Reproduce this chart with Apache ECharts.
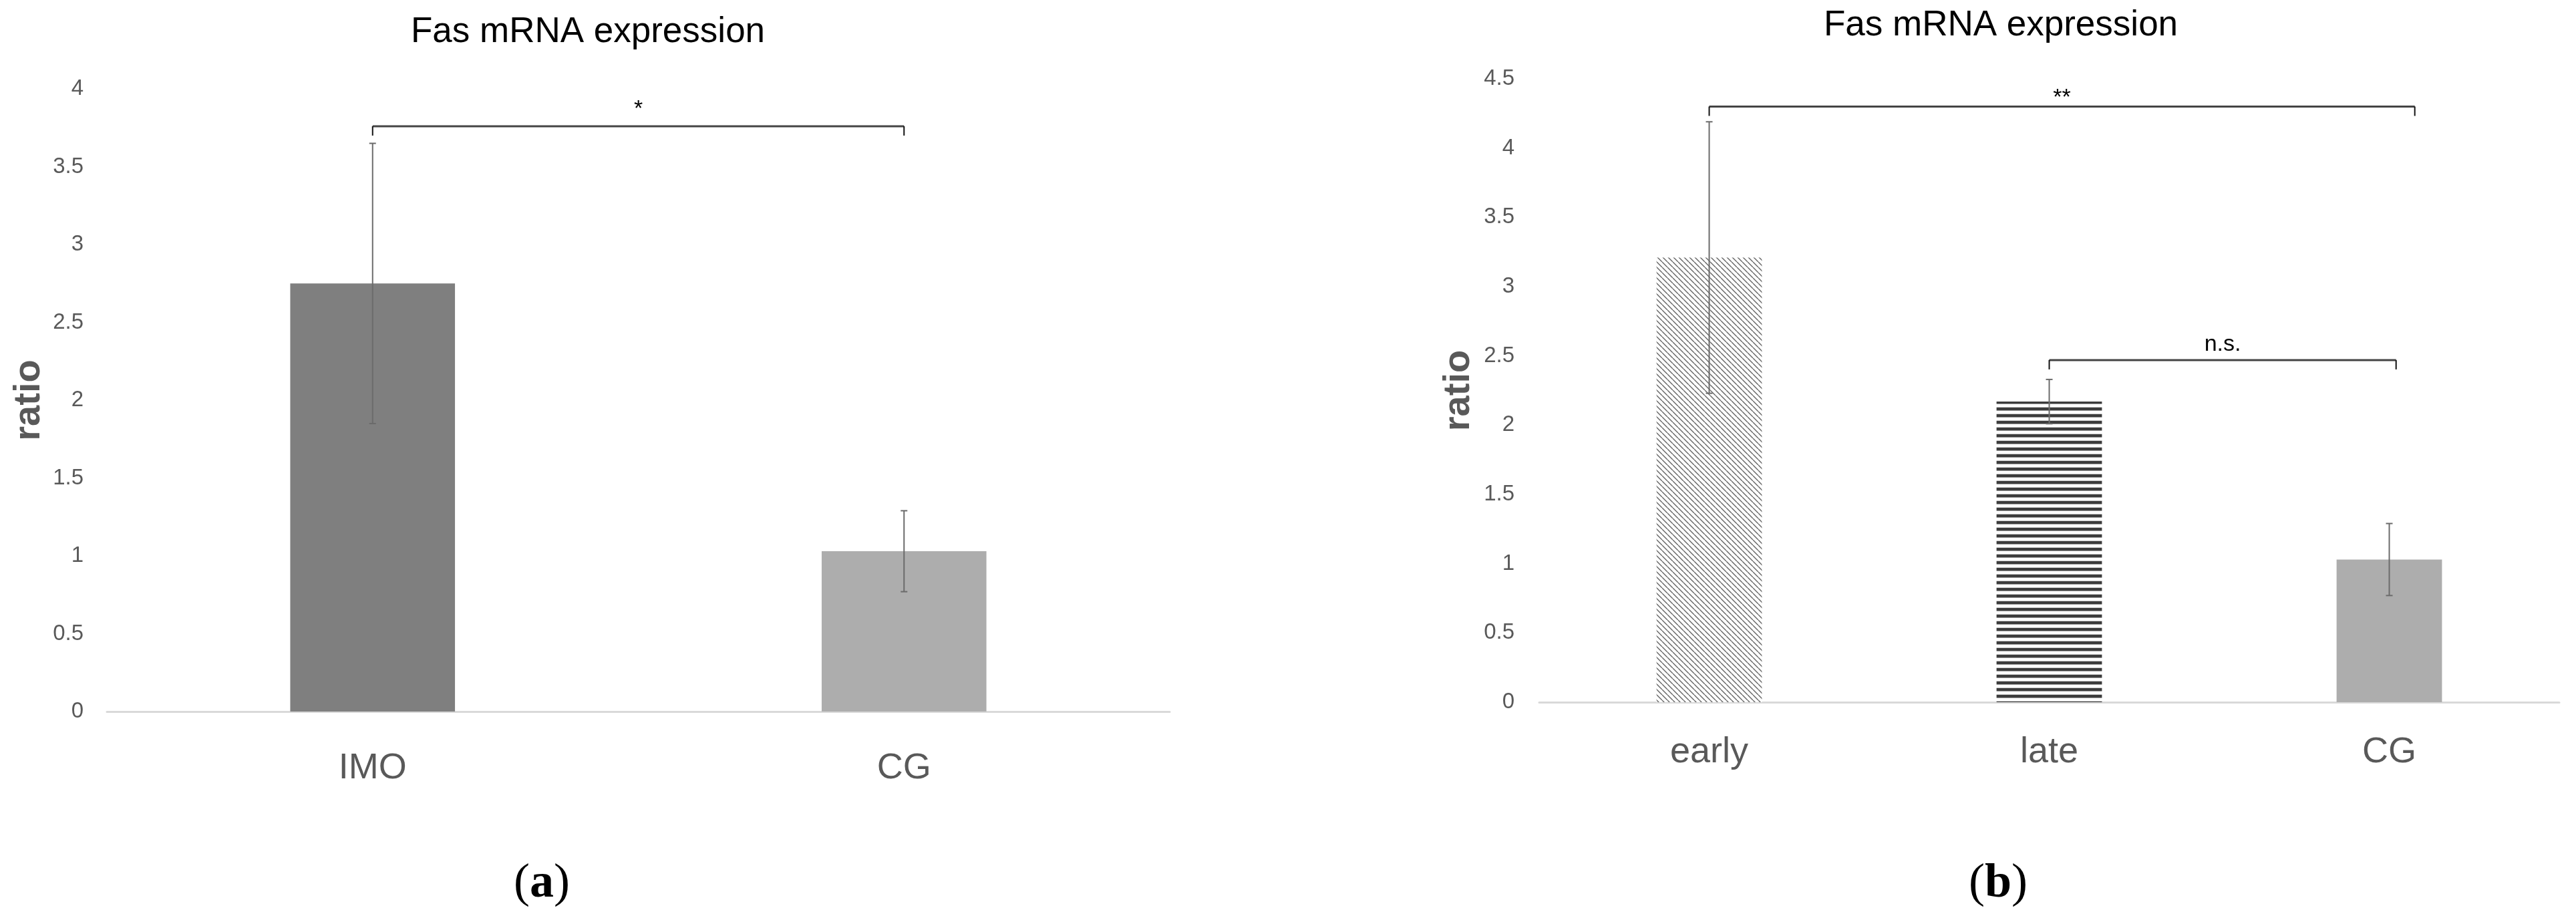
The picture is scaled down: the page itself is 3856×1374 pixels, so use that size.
<!DOCTYPE html>
<html><head><meta charset="utf-8">
<script src="https://cdn.jsdelivr.net/npm/echarts@6/dist/echarts.min.js"></script>
<style>html,body{margin:0;padding:0;background:#fff}#c{width:3856px;height:1374px}</style>
</head><body><div id="c"></div>
<script>
// ---------- data ----------
const catsA = ['IMO', 'CG'];
const meanA = [2.75, 1.03];
const errA  = [0.90, 0.26];

const catsB = ['early', 'late', 'CG'];
const meanB = [3.21, 2.17, 1.03];
const errB  = [0.98, 0.16, 0.26];

const yMaxA = 4;
const yMaxB = 4.5;
const yStep = 0.5;

// significance brackets: [fromCategory, toCategory, yValue, label]
const bracketsA = [[0, 1, 3.76, '*']];
const bracketsB = [[0, 2, 4.30, '**'], [1, 2, 2.47, 'n.s.']];

const titleText = 'Fas mRNA expression';
const yName = 'ratio';
const panelLabels = ['a', 'b'];

// ---------- styles / layout ----------
const FONT = '"Liberation Sans", Arial, sans-serif';
const GREY_TXT = '#595959';
const bracketEndShiftA = [0];
const bracketEndShiftB = [0.075, 0.02];
const labelLiftA = [8];
const labelLiftB = [-4, 6];

function hatchPattern() {
  const c = document.createElement('canvas');
  c.width = 8; c.height = 8;
  const g = c.getContext('2d');
  g.fillStyle = '#fff'; g.fillRect(0, 0, 8, 8);
  g.strokeStyle = '#666'; g.lineWidth = 1.4;
  g.beginPath();
  for (const o of [-8, 0, 8]) { g.moveTo(o, 0); g.lineTo(o + 8, 8); }
  g.stroke();
  return c;
}
function stripePattern() {
  const c = document.createElement('canvas');
  c.width = 4; c.height = 10;
  const g = c.getContext('2d');
  g.fillStyle = '#fff'; g.fillRect(0, 0, 4, 10);
  g.fillStyle = '#3c3c3c'; g.fillRect(0, 0, 4, 4);
  g.fillStyle = '#9a9a9a'; g.fillRect(0, 4, 4, 1);
  g.fillStyle = '#c8c8c8'; g.fillRect(0, 9, 4, 1);
  return c;
}

const colorsA = ['#7f7f7f', '#adadad'];
const colorsB = [{ image: hatchPattern(), repeat: 'repeat' },
                 { image: stripePattern(), repeat: 'repeat' },
                 '#adadad'];

function errorRender(params, api) {
  const i = api.value(0), m = api.value(1), e = api.value(2);
  const t = api.coord([i, m + e]);
  const b = api.coord([i, m - e]);
  const cap = 5;
  const st = { stroke: '#6b6b6b', lineWidth: 2 };
  return { type: 'group', children: [
    { type: 'line', shape: { x1: t[0], y1: t[1], x2: b[0], y2: b[1] }, style: st },
    { type: 'line', shape: { x1: t[0] - cap, y1: t[1], x2: t[0] + cap, y2: t[1] }, style: st },
    { type: 'line', shape: { x1: b[0] - cap, y1: b[1], x2: b[0] + cap, y2: b[1] }, style: st }
  ]};
}

function makeBracketRender(list, shifts, lifts) {
  return function (params, api) {
    const k = params.dataIndex;
    const br = list[k];
    const p1 = api.coord([br[0], br[2]]);
    const p2 = api.coord([br[1], br[2]]);
    const band = api.size([1, 0])[0];
    const x1 = p1[0], x2 = p2[0] + shifts[k] * band, y = p1[1];
    const drop = 14;
    return { type: 'group', children: [
      { type: 'line', shape: { x1: x1, y1: y, x2: x2, y2: y }, style: { stroke: '#444', lineWidth: 3 } },
      { type: 'line', shape: { x1: x1, y1: y, x2: x1, y2: y + drop }, style: { stroke: '#111', lineWidth: 2 } },
      { type: 'line', shape: { x1: x2, y1: y, x2: x2, y2: y + drop }, style: { stroke: '#111', lineWidth: 2 } },
      { type: 'text', x: (x1 + x2) / 2, y: y - lifts[k],
        style: { text: br[3], fontSize: 34, fontFamily: FONT, fill: '#000',
                 align: 'center', verticalAlign: 'bottom' } }
    ]};
  };
}

const chart = echarts.init(document.getElementById('c'), null, { renderer: 'canvas' });

function yAxisCfg(gridIndex, max, gap, margin) {
  return {
    gridIndex: gridIndex, type: 'value', min: 0, max: max, interval: yStep,
    axisLine: { show: false }, axisTick: { show: false }, splitLine: { show: false },
    axisLabel: { color: GREY_TXT, fontSize: 33, fontFamily: FONT, margin: margin },
    name: yName, nameLocation: 'middle', nameGap: gap,
    nameTextStyle: { color: GREY_TXT, fontSize: 56, fontWeight: 'bold', fontFamily: FONT }
  };
}
function xAxisCfg(gridIndex, cats, margin) {
  return {
    gridIndex: gridIndex, type: 'category', data: cats,
    axisLine: { lineStyle: { color: '#d9d9d9', width: 3 } },
    axisTick: { show: false },
    axisLabel: { color: GREY_TXT, fontSize: 54, fontFamily: FONT, margin: margin }
  };
}

const panelRich = {
  p: { fontSize: 72, fontFamily: '"Liberation Serif", serif', fill: '#000' },
  b: { fontSize: 72, fontWeight: 'bold', fontFamily: '"Liberation Serif", serif', fill: '#000' }
};

chart.setOption({
  backgroundColor: '#fff',
  animation: false,
  grid: [
    { left: 160, right: 2105, top: 133, bottom: 309 },
    { left: 2304, right: 25, top: 118, bottom: 323 }
  ],
  xAxis: [xAxisCfg(0, catsA, 58), xAxisCfg(1, catsB, 48)],
  yAxis: [yAxisCfg(0, yMaxA, 88, 35), yAxisCfg(1, yMaxB, 92, 37)],
  graphic: [
    { type: 'text', x: 880, y: 48, style: { text: titleText, fontSize: 53, fontFamily: FONT, fill: '#000', align: 'center', verticalAlign: 'middle' } },
    { type: 'text', x: 2995, y: 38, style: { text: titleText, fontSize: 53, fontFamily: FONT, fill: '#000', align: 'center', verticalAlign: 'middle' } },
    { type: 'text', x: 811, y: 1323, style: { text: '{p|(}{b|' + panelLabels[0] + '}{p|)}', align: 'center', verticalAlign: 'middle', rich: panelRich } },
    { type: 'text', x: 2991, y: 1323, style: { text: '{p|(}{b|' + panelLabels[1] + '}{p|)}', align: 'center', verticalAlign: 'middle', rich: panelRich } }
  ],
  series: [
    { type: 'bar', xAxisIndex: 0, yAxisIndex: 0, barWidth: '31%',
      data: meanA.map((v, i) => ({ value: v, itemStyle: { color: colorsA[i] } })) },
    { type: 'bar', xAxisIndex: 1, yAxisIndex: 1, barWidth: '31%',
      data: meanB.map((v, i) => ({ value: v, itemStyle: { color: colorsB[i] } })) },
    { type: 'custom', xAxisIndex: 0, yAxisIndex: 0, renderItem: errorRender, encode: { x: 0, y: 1 }, z: 5,
      data: meanA.map((m, i) => [i, m, errA[i]]) },
    { type: 'custom', xAxisIndex: 1, yAxisIndex: 1, renderItem: errorRender, encode: { x: 0, y: 1 }, z: 5,
      data: meanB.map((m, i) => [i, m, errB[i]]) },
    { type: 'custom', xAxisIndex: 0, yAxisIndex: 0, renderItem: makeBracketRender(bracketsA, bracketEndShiftA, labelLiftA), clip: false,
      encode: { x: [0, 1], y: 2 }, z: 6, data: bracketsA.map(b => [b[0], b[1], b[2]]) },
    { type: 'custom', xAxisIndex: 1, yAxisIndex: 1, renderItem: makeBracketRender(bracketsB, bracketEndShiftB, labelLiftB), clip: false,
      encode: { x: [0, 1], y: 2 }, z: 6, data: bracketsB.map(b => [b[0], b[1], b[2]]) }
  ]
});
</script>
</body></html>
